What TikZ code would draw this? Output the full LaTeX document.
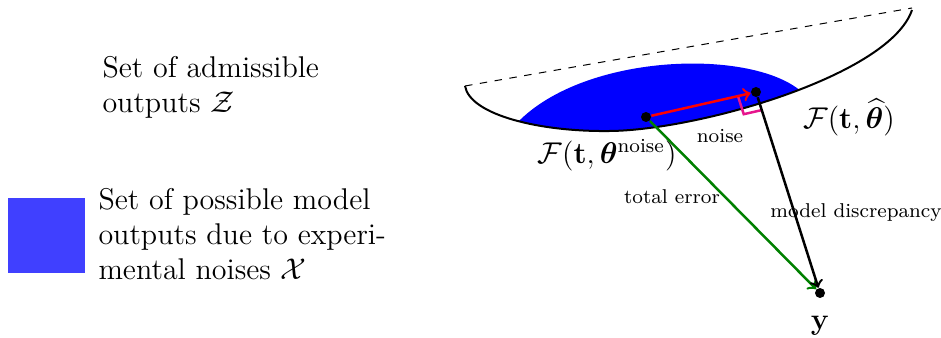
\documentclass[tikz,border=0pt]{standalone}
\usepackage{amsmath,amssymb,bm}
\usetikzlibrary{calc}
\definecolor{legblue}{RGB}{64,64,255}
\definecolor{pinkmark}{RGB}{230,20,140}
\definecolor{darkgreen}{RGB}{0,128,0}
\begin{document}
\begin{tikzpicture}[x=0.4pt,y=-0.4pt,
  dot/.style={circle,fill=black,inner sep=0pt,minimum size=4pt},
  lbl/.style={font=\footnotesize,inner sep=0pt},
  legtext/.style={font=\large,align=left,inner sep=0pt,anchor=north west},
  vec/.style={->,line width=1pt},
  >=to]
\useasboundingbox (0,0) rectangle (941,338);
% blue region
\begin{scope}
\clip (465,86) .. controls (470,115) and (540,132) .. (610,131) .. controls (700,130) and (890,75) .. (912,10) -- (912,-50) -- (465,-50) -- cycle;
\fill[blue] (517,123) .. controls (585,52) and (755,48) .. (803,93) -- (803,200) -- (517,200) -- cycle;
\end{scope}
% outer curve and dashed line
\coordinate (A) at (465,86);
\coordinate (B) at (912,10);
\draw[line width=0.8pt] (A) .. controls (470,115) and (540,132) .. (610,131) .. controls (700,130) and (890,75) .. (B);
\draw[dashed] (A) -- (912,8);
% points
\node[dot] (n) at (646,117) {};
\node[dot] (h) at (756,92) {};
\node[dot] (y) at (820,293) {};
% right angle mark
\coordinate (p1) at ($(h.center)!7.4pt!(n.center)$);
\coordinate (p3) at ($(h.center)!7.6pt!(y.center)$);
\draw[pinkmark,line width=1pt] (p1) -- ($(p1)+(p3)-(h.center)$) -- (p3);
% arrows
\draw[vec,red] (n) -- (h);
\draw[vec,darkgreen] (n) -- (y);
\draw[vec,black] (h) -- (y);
% labels
\node[inner sep=0pt] (ln) at (607,155) {\large $\mathcal{F}(\mathbf{t},\boldsymbol{\theta}^{\text{noise}})$};
\node[inner sep=0pt] (lh) at (849,117) {\large $\mathcal{F}(\mathbf{t},\widehat{\boldsymbol{\theta}})$};
\node[lbl] (noise) at (720,136) {noise};
\node[lbl] (te) at (672,197) {total error};
\node[lbl] (md) at (856,213) {model discrepancy};
\node[inner sep=0pt] (ly) at (820,326) {\large $\mathbf{y}$};
% legend
\node[legtext] (z) at (102,56) {Set of admissible\\outputs $\mathcal{Z}$};
\fill[legblue] (8,198) rectangle (85,273);
\node[legtext] (x) at (98,188) {Set of possible model\\outputs due to experi-\\mental noises $\mathcal{X}$};
\end{tikzpicture}
\end{document}
